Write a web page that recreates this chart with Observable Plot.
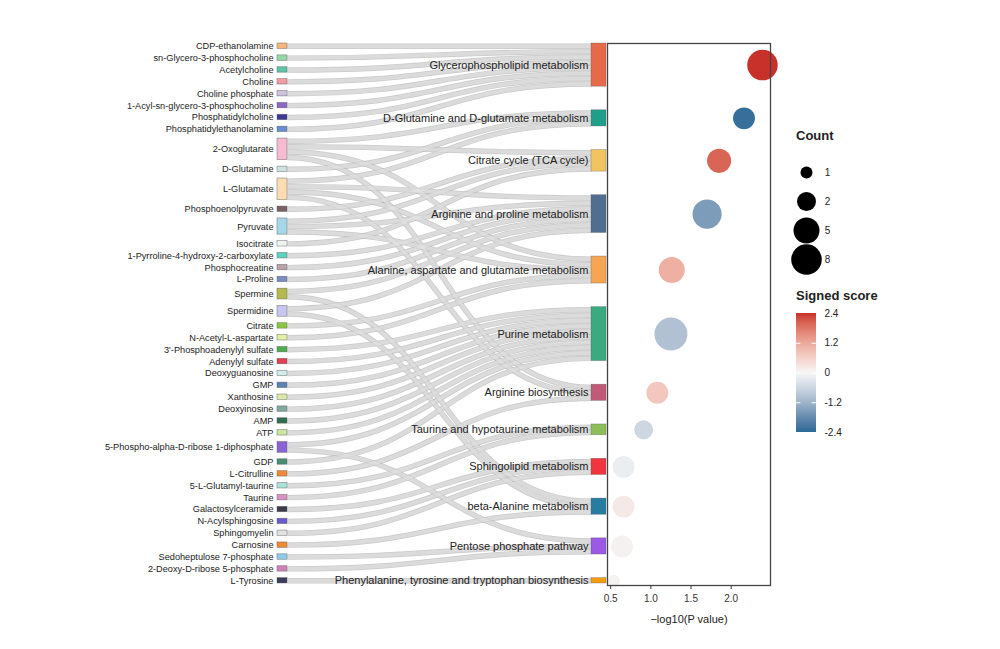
<!DOCTYPE html>
<html><head><meta charset="utf-8">
<script src="https://cdn.jsdelivr.net/npm/d3@7"></script>
<script src="https://cdn.jsdelivr.net/npm/@observablehq/plot@0.6"></script>
<style>
body{margin:0;background:#fff;font-family:"Liberation Sans",Arial,sans-serif;}
#chart{position:relative;width:1000px;height:649px;overflow:hidden;background:#fff}
#chart > *{position:absolute;left:0;top:0}
.ttl{font-weight:bold;font-size:13px;color:#222;line-height:16px;white-space:nowrap}
</style></head><body><div id="chart"></div>
<script>
// ---------- data ----------
const metabolites = ["CDP-ethanolamine","sn-Glycero-3-phosphocholine","Acetylcholine","Choline","Choline phosphate","1-Acyl-sn-glycero-3-phosphocholine","Phosphatidylcholine","Phosphatidylethanolamine","2-Oxoglutarate","D-Glutamine","L-Glutamate","Phosphoenolpyruvate","Pyruvate","Isocitrate","1-Pyrroline-4-hydroxy-2-carboxylate","Phosphocreatine","L-Proline","Spermine","Spermidine","Citrate","N-Acetyl-L-aspartate","3'-Phosphoadenylyl sulfate","Adenylyl sulfate","Deoxyguanosine","GMP","Xanthosine","Deoxyinosine","AMP","ATP","5-Phospho-alpha-D-ribose 1-diphosphate","GDP","L-Citrulline","5-L-Glutamyl-taurine","Taurine","Galactosylceramide","N-Acylsphingosine","Sphingomyelin","Carnosine","Sedoheptulose 7-phosphate","2-Deoxy-D-ribose 5-phosphate","L-Tyrosine"];
const metaboliteColors = ["#f7b67c","#95d9a8","#5fc4a8","#f49aa2","#cdc3de","#8b69c4","#3d3a96","#6a8cd0","#f6bad2","#cfe2e2","#fddcb2","#7a6264","#a4d8e8","#eef3f3","#5ed2c0","#b8a2ac","#7a8ec2","#b6ba4e","#c8c6ee","#8cc63f","#e2eea4","#4fab4b","#e0404f","#d0eded","#5c82b3","#daeaa6","#80a89e","#2f6e4f","#cbe6a2","#8a63d4","#4a8c72","#f0893a","#a9e3dc","#d990c2","#3b3b4c","#6b5bce","#e2e2e2","#f08a30","#8dcde9","#d081ba","#3c3c5c"];
const pathways = ["Glycerophospholipid metabolism","D-Glutamine and D-glutamate metabolism","Citrate cycle (TCA cycle)","Arginine and proline metabolism","Alanine, aspartate and glutamate metabolism","Purine metabolism","Arginine biosynthesis","Taurine and hypotaurine metabolism","Sphingolipid metabolism","beta-Alanine metabolism","Pentose phosphate pathway","Phenylalanine, tyrosine and tryptophan biosynthesis"];
const pathwayColors = ["#e8694a","#1f9e89","#f0c560","#4f6e90","#f6a552","#3aaa80","#c05a78","#8cbf5a","#f0353f","#277da1","#9b59e6","#f39c12"];
const pathwayCount = [8,3,4,7,5,10,3,2,3,3,3,1];
const pathwayLogP = [2.39,2.16,1.85,1.70,1.26,1.25,1.08,0.91,0.66,0.66,0.64,0.54];
const pathwayScore = [2.4,-2.3,1.85,-1.5,0.9,-0.85,0.6,-0.5,-0.12,0.15,0.05,0.03];
const links = [
 ["CDP-ethanolamine","Glycerophospholipid metabolism"],
 ["sn-Glycero-3-phosphocholine","Glycerophospholipid metabolism"],
 ["Acetylcholine","Glycerophospholipid metabolism"],
 ["Choline","Glycerophospholipid metabolism"],
 ["Choline phosphate","Glycerophospholipid metabolism"],
 ["1-Acyl-sn-glycero-3-phosphocholine","Glycerophospholipid metabolism"],
 ["Phosphatidylcholine","Glycerophospholipid metabolism"],
 ["Phosphatidylethanolamine","Glycerophospholipid metabolism"],
 ["2-Oxoglutarate","D-Glutamine and D-glutamate metabolism"],
 ["D-Glutamine","D-Glutamine and D-glutamate metabolism"],
 ["L-Glutamate","D-Glutamine and D-glutamate metabolism"],
 ["2-Oxoglutarate","Citrate cycle (TCA cycle)"],
 ["Phosphoenolpyruvate","Citrate cycle (TCA cycle)"],
 ["Pyruvate","Citrate cycle (TCA cycle)"],
 ["Isocitrate","Citrate cycle (TCA cycle)"],
 ["L-Glutamate","Arginine and proline metabolism"],
 ["Pyruvate","Arginine and proline metabolism"],
 ["1-Pyrroline-4-hydroxy-2-carboxylate","Arginine and proline metabolism"],
 ["Phosphocreatine","Arginine and proline metabolism"],
 ["L-Proline","Arginine and proline metabolism"],
 ["Spermine","Arginine and proline metabolism"],
 ["Spermidine","Arginine and proline metabolism"],
 ["2-Oxoglutarate","Alanine, aspartate and glutamate metabolism"],
 ["L-Glutamate","Alanine, aspartate and glutamate metabolism"],
 ["Pyruvate","Alanine, aspartate and glutamate metabolism"],
 ["Citrate","Alanine, aspartate and glutamate metabolism"],
 ["N-Acetyl-L-aspartate","Alanine, aspartate and glutamate metabolism"],
 ["3'-Phosphoadenylyl sulfate","Purine metabolism"],
 ["Adenylyl sulfate","Purine metabolism"],
 ["Deoxyguanosine","Purine metabolism"],
 ["GMP","Purine metabolism"],
 ["Xanthosine","Purine metabolism"],
 ["Deoxyinosine","Purine metabolism"],
 ["AMP","Purine metabolism"],
 ["ATP","Purine metabolism"],
 ["5-Phospho-alpha-D-ribose 1-diphosphate","Purine metabolism"],
 ["GDP","Purine metabolism"],
 ["2-Oxoglutarate","Arginine biosynthesis"],
 ["L-Glutamate","Arginine biosynthesis"],
 ["L-Citrulline","Arginine biosynthesis"],
 ["5-L-Glutamyl-taurine","Taurine and hypotaurine metabolism"],
 ["Taurine","Taurine and hypotaurine metabolism"],
 ["Galactosylceramide","Sphingolipid metabolism"],
 ["N-Acylsphingosine","Sphingolipid metabolism"],
 ["Sphingomyelin","Sphingolipid metabolism"],
 ["Spermine","beta-Alanine metabolism"],
 ["Spermidine","beta-Alanine metabolism"],
 ["Carnosine","beta-Alanine metabolism"],
 ["5-Phospho-alpha-D-ribose 1-diphosphate","Pentose phosphate pathway"],
 ["Sedoheptulose 7-phosphate","Pentose phosphate pathway"],
 ["2-Deoxy-D-ribose 5-phosphate","Pentose phosphate pathway"],
 ["L-Tyrosine","Phenylalanine, tyrosine and tryptophan biosynthesis"]
];
const countLegend = [1,2,5,8];
const scoreTicks = [2.4,1.2,0,-1.2,-2.4];

// ---------- sankey layout (in link units) ----------
const total = links.length;
const padL = 1.2;
const span = total + (metabolites.length - 1) * padL;
const padR = (span - total) / (pathways.length - 1);
let acc = 0;
const leftNodes = metabolites.map((m, i) => {
  const k = links.filter(l => l[0] === m).length;
  const n = {name: m, color: metaboliteColors[i], y0: acc, y1: acc + k};
  acc = n.y1 + padL; return n;
});
acc = 0;
const rightNodes = pathways.map((p, i) => {
  const k = links.filter(l => l[1] === p).length;
  const n = {name: p, color: pathwayColors[i], y0: acc, y1: acc + k, count: pathwayCount[i], logp: pathwayLogP[i], score: pathwayScore[i]};
  acc = n.y1 + padR; return n;
});
const L = links.map(([s, t]) => ({s: leftNodes.find(n => n.name === s), t: rightNodes.find(n => n.name === t)}));
for (const n of leftNodes) {
  let yy = n.y0;
  L.filter(l => l.s === n).sort((a, b) => a.t.y0 - b.t.y0).forEach(l => { l.ys = yy + 0.5; yy += 1; });
}
for (const n of rightNodes) {
  let yy = n.y0;
  L.filter(l => l.t === n).sort((a, b) => a.s.y0 - b.s.y0 || a.ys - b.ys).forEach(l => { l.yt = yy + 0.5; yy += 1; });
}

const W = 1000, H = 649;
const yRange = [43, 583];
const ky = (yRange[1] - yRange[0]) / span;
const font = "Liberation Sans, Arial, Helvetica, sans-serif";
const xL0 = 0, xL1 = 0.0304, xR0 = 0.9544, xR1 = 1;
const mid = d => (d.y0 + d.y1) / 2;

const rScale = {type: "linear", transform: v => Math.sqrt((v - 1) / 9), domain: [0, 1], range: [6, 16.5]};
const colorScale = {type: "linear", domain: [-2.4, 0, 2.4], range: ["#2c6a97", "#f5f5f5", "#c8302a"], interpolate: "lab"};

const chart = document.getElementById("chart");

const sankey = Plot.plot({
  width: W, height: H, margin: 0,
  style: {fontFamily: font, background: "transparent"},
  x: {domain: [0, 1], range: [277, 606], axis: null},
  y: {domain: [0, span], range: yRange, axis: null},
  color: {type: "identity"},
  marks: [
    Plot.link(L, {x1: xL1, x2: xR0, y1: "ys", y2: "yt", curve: "bump-x", stroke: "#a6a6a6", strokeOpacity: 0.6, strokeWidth: ky}),
    Plot.link(L, {x1: xL1, x2: xR0, y1: "ys", y2: "yt", curve: "bump-x", stroke: "#e6e6e6", strokeOpacity: 0.6, strokeWidth: ky - 1.4}),
    Plot.rect(leftNodes, {x1: xL0, x2: xL1, y1: "y0", y2: "y1", fill: "color", stroke: "#555", strokeOpacity: 0.7, strokeWidth: 0.6}),
    Plot.rect(rightNodes, {x1: xR0, x2: xR1, y1: "y0", y2: "y1", fill: "color", stroke: "#555", strokeOpacity: 0.5, strokeWidth: 0.6}),
    Plot.text(leftNodes, {x: xL0, y: mid, text: "name", textAnchor: "end", dx: -4, fontSize: 9.2, fill: "#222"}),
    Plot.text(rightNodes, {x: xR0, y: mid, text: "name", textAnchor: "end", dx: -3, fontSize: 11, fill: "#222"})
  ]
});
chart.appendChild(sankey);

const bubbles = Plot.plot({
  width: W, height: H, marginLeft: 607, marginRight: 230, marginTop: 43, marginBottom: 64,
  style: {fontFamily: font, fontSize: "10px", color: "#333", background: "transparent"},
  x: {domain: [0.46, 2.49], ticks: 4, tickFormat: ".1f", label: null, tickSize: 4},
  y: {domain: [0, span], range: yRange, axis: null},
  r: rScale,
  color: colorScale,
  marks: [
    Plot.dot(rightNodes, {x: "logp", y: mid, r: "count", fill: "score"}),
    Plot.frame({stroke: "#444", strokeWidth: 1.3}),
    Plot.text(["\u2212log10(P value)"], {frameAnchor: "bottom", dy: 37, fontSize: 11, fill: "#222"})
  ]
});
chart.appendChild(bubbles);

// ---------- legends ----------
const t1 = document.createElement("div"); t1.className = "ttl"; t1.textContent = "Count";
t1.style.left = "796px"; t1.style.top = "128px"; chart.appendChild(t1);
const t2 = document.createElement("div"); t2.className = "ttl"; t2.textContent = "Signed score";
t2.style.left = "796px"; t2.style.top = "288px"; chart.appendChild(t2);

const sizeLeg = Plot.plot({
  width: 60, height: 130, margin: 0,
  style: {fontFamily: font, fontSize: "10px", background: "transparent"},
  x: {domain: [0, 1], range: [16, 37], axis: null},
  y: {type: "point", domain: countLegend.map(String), range: [21, 109], padding: 0, axis: null},
  r: rScale,
  marks: [
    Plot.dot(countLegend, {x: 0, y: d => String(d), r: d => d, fill: "black"}),
    Plot.text(countLegend, {x: 1, y: d => String(d), text: d => String(d), fill: "#222", fontSize: 10})
  ]
});
sizeLeg.style.left = "790px"; sizeLeg.style.top = "150px";
chart.appendChild(sizeLeg);

const steps = d3.range(-2.4, 2.4, 0.04);
const colorLeg = Plot.plot({
  width: 60, height: 145, margin: 0,
  style: {fontFamily: font, fontSize: "10px", background: "transparent"},
  x: {domain: [0, 1], range: [6, 26], axis: null},
  y: {domain: [-2.4, 2.4], range: [132, 13], axis: null},
  color: colorScale,
  marks: [
    Plot.rect(steps, {x1: 0, x2: 1, y1: d => d, y2: d => Math.min(2.4, d + 0.045), fill: d => d + 0.02}),
    Plot.ruleY(scoreTicks.slice(1, 4), {x1: 0, x2: 0.22, stroke: "white", strokeWidth: 1}),
    Plot.ruleY(scoreTicks.slice(1, 4), {x1: 0.78, x2: 1, stroke: "white", strokeWidth: 1}),
    Plot.text(scoreTicks, {x: 1, y: d => d, text: d => String(d), textAnchor: "start", dx: 8, fill: "#222", fontSize: 10})
  ]
});
colorLeg.style.left = "790px"; colorLeg.style.top = "300px";
chart.appendChild(colorLeg);
</script></body></html>
